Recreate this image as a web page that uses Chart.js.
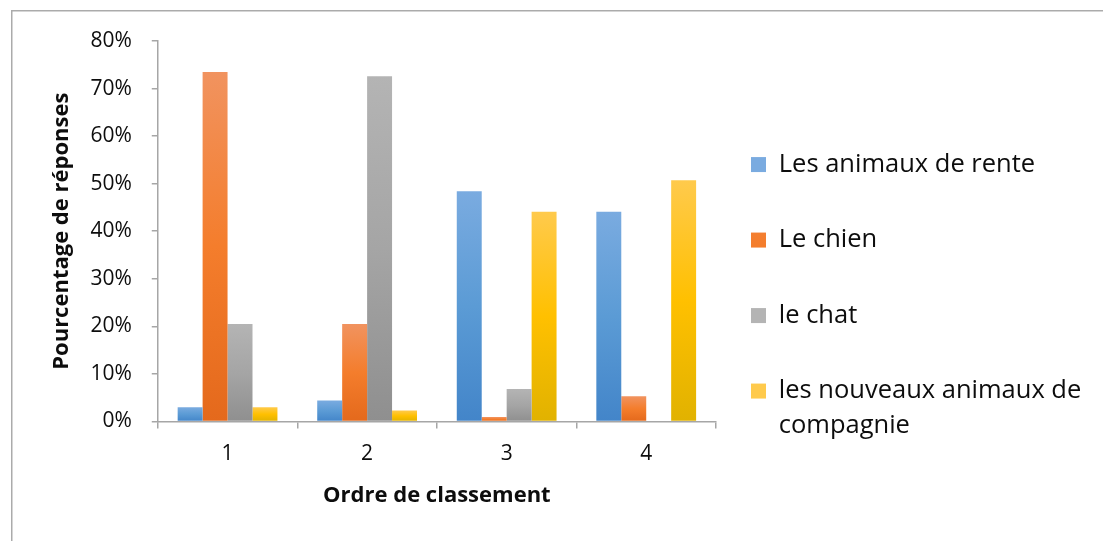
<!DOCTYPE html>
<html>
<head>
<meta charset="utf-8">
<script src="https://cdn.jsdelivr.net/npm/chart.js@4.4.1/dist/chart.umd.min.js"></script>
<style>
html,body{margin:0;padding:0;background:#fff;}
#wrap{width:1103px;height:541px;}
</style>
</head>
<body>
<div id="wrap"><canvas id="c" width="1103" height="541"></canvas></div>
<script>
const categories = ['1', '2', '3', '4'];
const animauxRente = [3.0, 4.4, 48.4, 44.1];
const chien = [73.5, 20.5, 0.9, 5.3];
const chat = [20.5, 72.6, 6.8, 0];
const nouveauxAnimaux = [3.0, 2.3, 44.1, 50.7];
const seriesLabels = ['Les animaux de rente', 'Le chien', 'le chat', ['les nouveaux animaux de', 'compagnie']];
const yTicks = [0, 10, 20, 30, 40, 50, 60, 70, 80];
const xTitle = 'Ordre de classement';
const yTitle = 'Pourcentage de réponses';

const palettes = [
  ['#7aabe0', '#5b9bd5', '#4385c9'],
  ['#f1935f', '#f47d2c', '#e4691c'],
  ['#b4b4b4', '#a5a5a5', '#8f8f8f'],
  ['#ffca4c', '#ffc000', '#e1b200']
];

function grad(cols) {
  return function(ctx) {
    const c = ctx.chart;
    if (ctx.type !== 'data' || !c.scales || !c.scales.y) return cols[1];
    const ys = c.scales.y;
    const top = ys.getPixelForValue(ctx.raw);
    const base = ys.getPixelForValue(0);
    if (!isFinite(top) || !isFinite(base) || Math.abs(base - top) < 0.5) return cols[1];
    const g = c.ctx.createLinearGradient(0, top, 0, base);
    g.addColorStop(0, cols[0]);
    g.addColorStop(0.5, cols[1]);
    g.addColorStop(1, cols[2]);
    return g;
  };
}

const LEGEND_GAP = 35;   // distance from plot right edge to legend boxes
const LEGEND_PAD = 50;
const LEGEND_WIDTH = 372;

const framePlugin = {
  id: 'frame',
  beforeLayout(chart) {
    const lg = chart.legend;
    if (lg && !lg._wideFix) {
      const orig = lg.update;
      lg.update = function(maxWidth, maxHeight, margins) {
        const r = orig.call(this, 1000, maxHeight, margins);
        this.width = LEGEND_WIDTH;
        this.right = this.left + LEGEND_WIDTH;
        return r;
      };
      lg._wideFix = true;
    }
  },
  afterLayout(chart) {
    const lg = chart.legend;
    if (lg) {
      lg.left = chart.chartArea.right + LEGEND_GAP - LEGEND_PAD;
      lg.right = chart.width;
      lg.width = lg.right - lg.left;
    }
  },
  beforeDraw(chart) {
    const ctx = chart.ctx;
    ctx.save();
    ctx.fillStyle = '#ffffff';
    ctx.fillRect(0, 0, chart.width, chart.height);
    ctx.strokeStyle = '#ababab';
    ctx.lineWidth = 1.5;
    ctx.strokeRect(11.75, 10.75, 1200, 700);
    ctx.restore();
  }
};

const seriesData = [animauxRente, chien, chat, nouveauxAnimaux];
const axisColor = '#a6a6a6';
const FONT = "'Open Sans', sans-serif";
const TXT = '#0d0d0d';

new Chart(document.getElementById('c'), {
  type: 'bar',
  data: {
    labels: categories,
    datasets: seriesData.map((d, i) => ({
      label: seriesLabels[i],
      data: d,
      backgroundColor: grad(palettes[i]),
      borderWidth: 0,
      categoryPercentage: 0.715,
      barPercentage: 1.0
    }))
  },
  options: {
    responsive: false,
    animation: false,
    devicePixelRatio: 1,
    layout: { padding: { left: 49, top: 41, right: 15, bottom: 32 } },
    plugins: {
      tooltip: { enabled: false },
      legend: {
        position: 'right',
        align: 'center',
        title: { display: true, text: '', font: { size: 12, lineHeight: 1 }, padding: { top: 19, bottom: 19 } },
        labels: {
          font: { family: FONT, size: 25.5, lineHeight: 1.37 },
          color: TXT,
          boxWidth: 15,
          boxHeight: 15,
          padding: LEGEND_PAD
        }
      }
    },
    scales: {
      x: {
        offset: true,
        grid: { offset: true, drawOnChartArea: false, drawTicks: true, tickLength: 7, color: axisColor, lineWidth: 1.5 },
        border: { color: axisColor, width: 1.5 },
        ticks: { font: { family: FONT, size: 21 }, color: TXT, padding: 13 },
        title: { display: true, text: xTitle, font: { family: FONT, size: 22, weight: 'bold' }, color: TXT, padding: { top: 3, bottom: 0 } }
      },
      y: {
        min: 0,
        max: 80,
        afterBuildTicks(scale) { scale.ticks = yTicks.map(v => ({ value: v })); },
        grid: { drawOnChartArea: false, drawTicks: true, tickLength: 6, color: axisColor, lineWidth: 1.5 },
        border: { color: axisColor, width: 1.5 },
        ticks: { font: { family: FONT, size: 21 }, color: TXT, padding: 20, callback: v => v + '%' },
        title: { display: true, text: yTitle, font: { family: FONT, size: 22, weight: 'bold' }, color: TXT, padding: { top: 0, bottom: -5 } }
      }
    }
  },
  plugins: [framePlugin]
});
</script>
</body>
</html>
